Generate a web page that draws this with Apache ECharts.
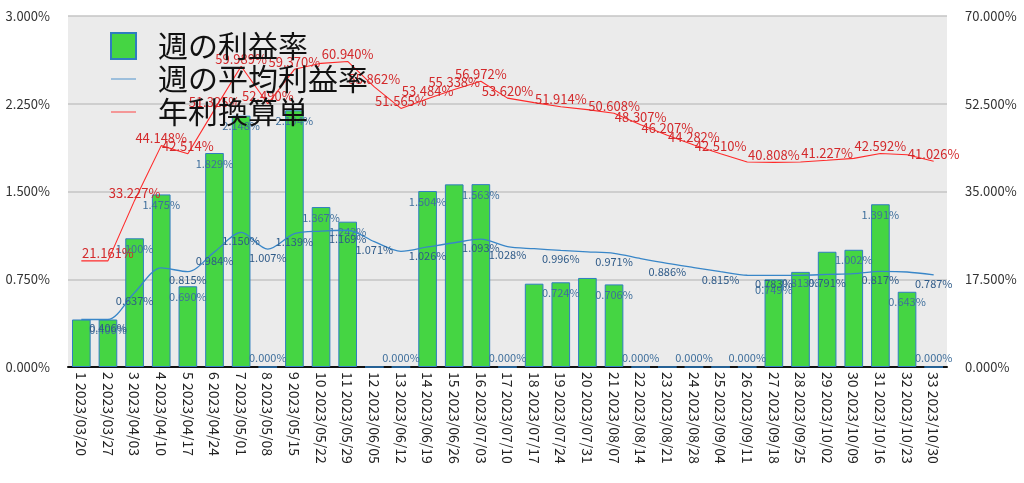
<!DOCTYPE html>
<html>
<head>
<meta charset="utf-8">
<script src="https://cdn.jsdelivr.net/npm/echarts@6/dist/echarts.min.js"></script>
<style>
html,body{margin:0;padding:0;background:#fff;}
#chart{width:1024px;height:483px;}
</style>
</head>
<body>
<div id="chart"></div>
<script>
const weekLabels = ["1 2023/03/20","2 2023/03/27","3 2023/04/03","4 2023/04/10","5 2023/04/17","6 2023/04/24","7 2023/05/01","8 2023/05/08","9 2023/05/15","10 2023/05/22","11 2023/05/29","12 2023/06/05","13 2023/06/12","14 2023/06/19","15 2023/06/26","16 2023/07/03","17 2023/07/10","18 2023/07/17","19 2023/07/24","20 2023/07/31","21 2023/08/07","22 2023/08/14","23 2023/08/21","24 2023/08/28","25 2023/09/04","26 2023/09/11","27 2023/09/18","28 2023/09/25","29 2023/10/02","30 2023/10/09","31 2023/10/16","32 2023/10/23","33 2023/10/30"];
const weeklyRate = [0.406,0.406,1.100,1.475,0.690,1.829,2.148,0,2.194,1.367,1.242,0,0,1.504,1.561,1.563,0,0.712,0.724,0.761,0.706,0,0,0,0,0,0.749,0.813,0.985,1.002,1.391,0.643,0];
const avgRate = [0.406,0.406,0.637,0.847,0.815,0.984,1.150,1.007,1.139,1.162,1.169,1.071,0.989,1.026,1.062,1.093,1.028,1.011,0.996,0.984,0.971,0.927,0.886,0.850,0.815,0.784,0.783,0.784,0.791,0.798,0.817,0.812,0.787];
const annualRate = [21.161,21.161,33.227,44.148,42.514,51.325,59.989,52.490,59.370,60.560,60.940,55.862,51.565,53.484,55.338,56.972,53.620,52.720,51.914,51.320,50.608,48.307,46.207,44.282,42.510,40.890,40.808,40.880,41.227,41.610,42.592,42.320,41.026];
const seriesNames = ["週の利益率","週の平均利益率","年利換算単"];
const leftTicks = {min:0, max:3, interval:0.75};
const rightTicks = {min:0, max:70, interval:17.5};

// which labels the reference leaves out (1-based week numbers)
const barHidden = [1,12,15,18,20,23,25,29];
const avgHidden = [1,4,10,13,15,18,20,22,24,26,28,30,32];
const annualHidden = [1,10,18,20,26,28,30,32];

const pct = v => Number(v).toFixed(3) + '%';
const FONT = '"Noto Sans CJK JP","Noto Sans",sans-serif';

const barData = weeklyRate.map((v,i) => {
  const item = {value: v};
  if (barHidden.includes(i+1)) item.label = {show:false};
  else if (v === 0) item.label = {position:'top', distance:3};
  return item;
});
const avgData = avgRate.map((v,i) => avgHidden.includes(i+1) ? {value:v, label:{show:false}} : v);
const annualData = annualRate.map((v,i) => annualHidden.includes(i+1) ? {value:v, label:{show:false}} : v);

const chart = echarts.init(document.getElementById('chart'), null, {renderer:'canvas'});
chart.setOption({
  animation: false,
  backgroundColor: '#ffffff',
  textStyle: {fontFamily: FONT},
  grid: {left:68, right:77, top:16, bottom:116, show:true, backgroundColor:'#ebebeb', borderWidth:0},
  legend: {
    orient: 'vertical', left: 110, top: 31, padding: 0,
    itemWidth: 25, itemHeight: 26, itemGap: 3,
    textStyle: {fontSize: 30, color: '#111', fontFamily: FONT, padding:[0,0,0,17], lineHeight: 30},
    data: [
      {name: seriesNames[0], icon: 'rect'},
      {name: seriesNames[1], icon: 'path://M0,0H40V1.4H0Z'},
      {name: seriesNames[2], icon: 'path://M0,0H40V1.4H0Z'}
    ]
  },
  xAxis: {
    type: 'category', data: weekLabels, boundaryGap: true,
    axisLine: {lineStyle: {color:'#111', width:2}},
    axisTick: {show:false},
    axisLabel: {rotate: -90, fontSize: 14, color: '#222', margin: 5, interval: 0, fontFamily: FONT}
  },
  yAxis: [
    {
      type: 'value', min: leftTicks.min, max: leftTicks.max, interval: leftTicks.interval,
      axisLine: {show:false}, axisTick: {show:false},
      splitLine: {lineStyle: {color:'#c4c4c4', width:1.5}},
      axisLabel: {formatter: pct, fontSize: 13, color: '#333', margin: 18, fontFamily: FONT}
    },
    {
      type: 'value', min: rightTicks.min, max: rightTicks.max, interval: rightTicks.interval,
      axisLine: {show:false}, axisTick: {show:false}, splitLine: {show:false},
      axisLabel: {formatter: pct, fontSize: 13, color: '#333', margin: 18, fontFamily: FONT}
    }
  ],
  series: [
    {
      name: seriesNames[0], type: 'bar', data: barData, barWidth: '70%',
      itemStyle: {color: '#45d543', borderColor: '#2f7dc0', borderWidth: 1},
      label: {show: true, position: 'insideTop', distance: 5, formatter: p => pct(p.value), fontSize: 11, color: '#3f6f9c', fontFamily: FONT},
      z: 2
    },
    {
      name: seriesNames[1], type: 'line', yAxisIndex: 0, data: avgData, smooth: 0.3,
      symbol: 'circle', symbolSize: 0.1, showSymbol: true, showAllSymbol: true,
      itemStyle: {color: '#3886c8'},
      lineStyle: {color: '#3886c8', width: 1.3},
      label: {show: true, position: 'bottom', distance: 3, formatter: p => pct(p.value), fontSize: 11, color: '#2e5a88', fontFamily: FONT},
      z: 3
    },
    {
      name: seriesNames[2], type: 'line', yAxisIndex: 1, data: annualData,
      symbol: 'circle', symbolSize: 0.1, showSymbol: true, showAllSymbol: true,
      itemStyle: {color: '#ff2a2a'},
      lineStyle: {color: '#ff2a2a', width: 1.1},
      label: {show: true, position: 'top', distance: 1, formatter: p => pct(p.value), fontSize: 13, color: '#d3292b', fontFamily: FONT},
      z: 3
    }
  ]
});
</script>
</body>
</html>
